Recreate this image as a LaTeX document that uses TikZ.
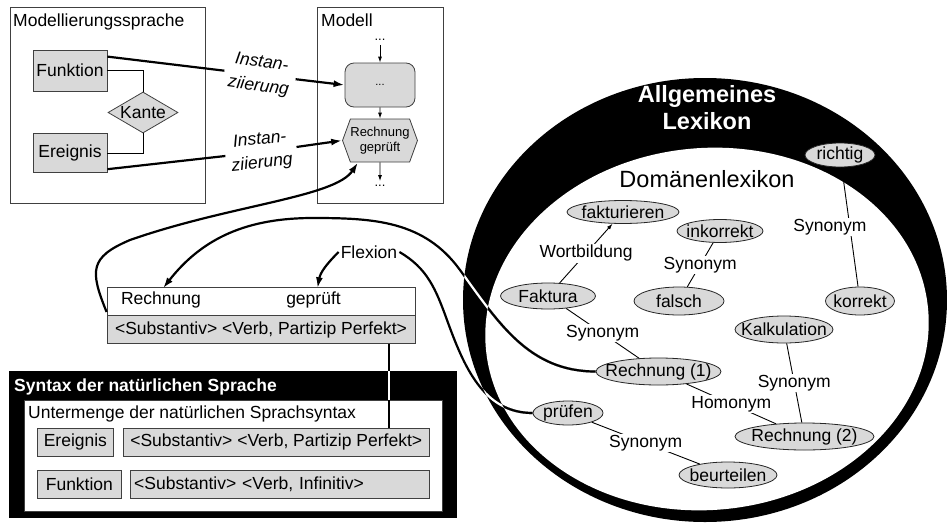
\documentclass[tikz,border=0pt]{standalone}
\usepackage{fontspec}
\setmainfont{Liberation Sans}
\usetikzlibrary{arrows.meta,positioning,shapes.geometric,shapes.symbols}
\definecolor{fillg}{HTML}{D9D9D9}
\definecolor{edge}{HTML}{404040}

% paths that cross black areas are drawn twice
\newcommand\rechpath{(rech1.west) to[out=180,in=-54] (w1) to[out=126,in=0] (w2) to[out=180,in=52] ([xshift=2pt]rw.north)}
\newcommand\flexpath{(flex.east) to[out=-30,in=110] (w3) to[out=-70,in=180] (pruefen.west)}
\newcommand\synline{([xshift=128pt]rgsyn.south) -- ([xshift=128pt]rgsyn.south |- syn1.north)}
\newcommand\outerring{(705,-300) ellipse [x radius=242pt, y radius=222pt]}
\newcommand\innerring{[rotate around={5:(707,-329)}] (707,-329) ellipse [x radius=222pt, y radius=181pt]}

\begin{document}
\begin{tikzpicture}[x=1pt, y=1pt,
    font=\fontsize{17.5}{20}\selectfont,
    frame/.style={draw=edge, line width=0.8pt, inner sep=0pt},
    ttl/.style={anchor=base west, inner sep=0pt},
    gbox/.style={draw=edge, fill=fillg, line width=0.8pt, inner sep=2pt},
    lex/.style={ellipse, draw=black!85, fill=fillg, line width=0.8pt, inner xsep=-10pt, inner ysep=0pt},
    lbl/.style={fill=white, inner sep=1pt},
    rel/.style={line width=0.9pt},
    conn/.style={line width=2.2pt},
    arr/.style={conn, -{Latex[length=11pt,width=7pt]}},
    sarr/.style={line width=0.9pt, -{Latex[length=6pt,width=4pt]}},
    dots/.style={font=\fontsize{13}{15}\selectfont, inner sep=4pt},
    inst/.style={font=\fontsize{17.5}{24}\selectfont\itshape, align=center, inner sep=5pt}]
  \useasboundingbox (0,0) rectangle (947,-522);

  % lexicon ring
  \fill \outerring;
  \fill[white] \innerring;

  % modelling language
  \node[frame, minimum width=195, minimum height=196, anchor=north west] (mls) at (10,-7) {};
  \node[ttl] (mlst) at (13,-27) {Modellierungssprache};
  \node[gbox, minimum width=74, minimum height=41] (fkt) at (70,-70.5) {Funktion};
  \node[gbox, minimum width=74, minimum height=39, below=42pt of fkt] (erg) {Ereignis};
  \node[gbox, diamond, aspect=1.7, inner sep=0pt, minimum width=70, minimum height=41] (kante) at (143,-112.5) {Kante};
  \draw[rel] (fkt.east) -| (kante.north);
  \draw[rel] (kante.south) |- (erg.east);

  % model
  \node[frame, minimum width=126, minimum height=196, anchor=north west] (mod) at (317,-7) {};
  \node[ttl] (modt) at (321,-27) {Modell};
  \node[dots] (dots1) at (380,-40) {...};
  \node[gbox, rounded corners=9pt, minimum width=70, minimum height=44, font=\fontsize{11}{13}\selectfont] (mod1) at (380,-85) {...};
  \node[gbox, signal, signal to=west and east, signal pointer angle=140, minimum width=70, minimum height=43,
        inner sep=0pt, align=center, font=\fontsize{13}{15.5}\selectfont] (mod2) at (380,-140.5) {Rechnung\\geprüft};
  \node[dots] (dots2) at (380,-186) {...};
  \draw[sarr] (dots1) -- (mod1);
  \draw[sarr] (mod1) -- (mod2);
  \draw[sarr] (mod2) -- (dots2);

  % instantiation
  \node[inst, rotate=-8] (inst1) at (260,-75) {Instan-\\ziierung};
  \node[inst, rotate=6] (inst2) at (261,-152) {Instan-\\ziierung};
  \draw[conn] ([yshift=-7pt]fkt.north east) -- (inst1);
  \draw[arr] (inst1) -- (mod1.west);
  \draw[conn] ([yshift=4pt]erg.south east) -- (inst2);
  \draw[arr] (inst2) -- (mod2.west);

  % word row
  \node[frame, fill=white, minimum width=308, minimum height=28] (rgtop) at (261,-301) {};
  \node[gbox, minimum width=308, minimum height=28, below=0pt of rgtop] (rgsyn) {<Substantiv> <Verb, Partizip Perfekt>};
  \node (rw) at (161,-300) {Rechnung};
  \node (gw) at (313.5,-300) {geprüft};
  \node[inner sep=2pt] (flex) at (369,-252) {Flexion};

  % syntax
  \node[fill=black, minimum width=448, minimum height=147, anchor=north west, inner sep=0pt] (syn) at (9,-371) {};
  \node[ttl, text=white, font=\fontsize{17.5}{20}\selectfont\bfseries] (synt) at (14,-391) {Syntax der natürlichen Sprache};
  \node[frame, fill=white, minimum width=418, minimum height=111, anchor=north west] (unt) at (24,-400) {};
  \node[ttl] (untt) at (28,-418) {Untermenge der natürlichen Sprachsyntax};
  \node[gbox, minimum width=76, minimum height=28, anchor=north west] (erg2) at (37,-428) {Ereignis};
  \node[gbox, minimum width=306, minimum height=28, right=9pt of erg2] (syn1) {<Substantiv> <Verb, Partizip Perfekt>};
  \node[gbox, minimum width=84, minimum height=28, below=13pt of erg2.south west, anchor=north west] (fkt2) {Funktion};
  \node[gbox, minimum height=28, text width=291, inner xsep=4pt, align=left, right=8pt of fkt2] (syn2) {<Substantiv> <Verb, Infinitiv>};

  % lexicon
  \node[text=white, font=\fontsize{23.5}{27}\selectfont\bfseries, align=center] (allg) at (707,-108) {Allgemeines\\Lexikon};
  \node[font=\fontsize{23.5}{27}\selectfont] (dom) at (707,-179) {Domänenlexikon};
  \node[lex, minimum width=112, minimum height=23] (fakturieren) at (623,-212) {fakturieren};
  \node[lex, minimum width=86, minimum height=23] (inkorrekt) at (720,-231) {inkorrekt};
  \node[lex, minimum width=95, minimum height=26] (faktura) at (548,-296) {Faktura};
  \node[lex, minimum width=90, minimum height=28] (falsch) at (679,-301) {falsch};
  \node[lex, minimum width=70, minimum height=24] (richtig) at (840,-155) {richtig};
  \node[lex, minimum width=69, minimum height=28] (korrekt) at (860,-301) {korrekt};
  \node[lex, minimum width=98, minimum height=27] (kalk) at (784,-329.5) {Kalkulation};
  \node[lex, minimum width=125, minimum height=27] (rech1) at (658.5,-371.5) {Rechnung (1)};
  \node[lex, minimum width=139, minimum height=27] (rech2) at (804.5,-436.5) {Rechnung (2)};
  \node[lex, minimum width=70, minimum height=24] (pruefen) at (568,-413) {prüfen};
  \node[lex, minimum width=98, minimum height=26] (beurteilen) at (728,-475) {beurteilen};

  \draw[sarr] (faktura) -- (fakturieren) node[lbl, midway] (wb) {Wortbildung};
  \draw[rel] (inkorrekt) -- (falsch) node[lbl, midway] {Synonym};
  \draw[rel] (richtig) -- (korrekt) node[lbl, midway, xshift=-20pt] {Synonym};
  \draw[rel] (faktura) -- (rech1) node[lbl, midway] {Synonym};
  \draw[rel] (kalk) -- (rech2) node[lbl, midway] {Synonym};
  \draw[rel] (rech1) -- (rech2) node[lbl, midway] {Homonym};
  \draw[rel] (pruefen) -- (beurteilen) node[lbl, midway] {Synonym};

  % long connectors
  \coordinate (w1) at (460,-270);
  \coordinate (w2) at (313,-218);
  \coordinate (w3) at (447,-320);
  \coordinate (bend1) at (130,-240);
  \draw[arr] ([yshift=-11pt]rgtop.west) to[out=112,in=203,looseness=1.5] (bend1)
    .. controls +(100,35) and +(-23,-35) .. ([xshift=-22pt]mod2.south);
  \draw[arr] \rechpath;
  \draw[conn] \flexpath;
  \draw[arr] (flex.west) to[out=225,in=80] ([xshift=4pt]gw.north);
  \draw[line width=1.4pt] \synline;

  % white where the lines run over black
  \begin{scope}
    \clip \outerring;
    \draw[conn, white] \rechpath;
    \draw[conn, white] \flexpath;
  \end{scope}
  \begin{scope}
    \clip \innerring;
    \draw[conn] \rechpath;
    \draw[conn] \flexpath;
  \end{scope}
  \begin{scope}
    \clip (syn.north west) rectangle (syn.south east);
    \draw[line width=1.4pt, white] \synline;
  \end{scope}
  \begin{scope}
    \clip (unt.north west) rectangle (unt.south east);
    \draw[line width=1.4pt] \synline;
  \end{scope}
\end{tikzpicture}
\end{document}
